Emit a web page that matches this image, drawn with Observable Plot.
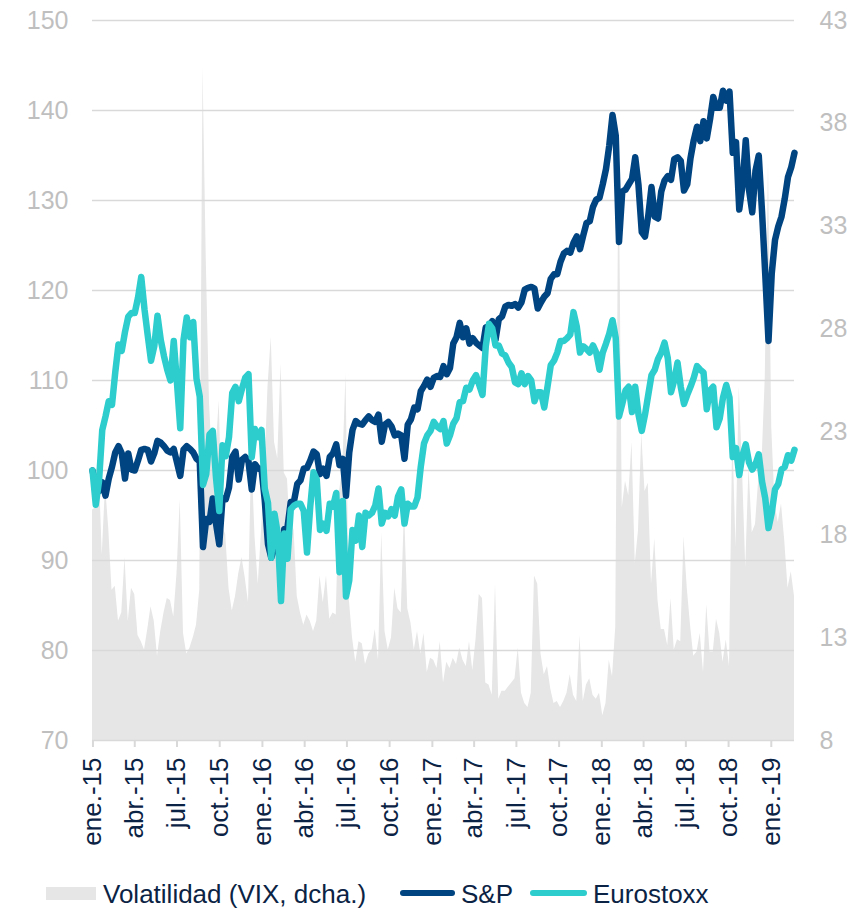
<!DOCTYPE html>
<html>
<head>
<meta charset="utf-8">
<script src="https://cdn.jsdelivr.net/npm/d3@7"></script>
<script src="https://cdn.jsdelivr.net/npm/@observablehq/plot@0.6"></script>
<style>
  body { margin: 0; background: #fff; font-family: "Liberation Sans", Arial, sans-serif; }
  #wrap { position: relative; width: 858px; height: 908px; }
  #legend { position: absolute; top: 877px; left: 0; width: 858px; height: 34px; font-size: 26px; color: #0b2344; }
  #legend .t { position: absolute; top: 0; line-height: 34px; white-space: nowrap; }
  #legend .sw { position: absolute; }
</style>
</head>
<body>
<div id="wrap">
  <div id="chart"></div>
  <div id="legend"></div>
</div>
<script>
// ---------- DATA (weekly observations, every 7 days from firstDate) ----------
const firstDate = "2014-12-31";

// S&P (base 100)
const sp = [
  100.0,
  /*2015*/
  98.4, 97.7, 98.7, 97.2,
  99.1, 100.4, 102.0, 102.7,
  101.9, 99.1, 101.9, 100.1,
  100.0, 101.1, 102.3, 102.4, 102.3,
  101.0, 101.9, 103.3, 103.1,
  102.7, 102.2, 102.0, 102.4,
  100.9, 99.4, 102.3, 102.7, 102.4,
  102.0, 101.3, 101.0, 91.5,
  94.6, 94.3, 96.9, 94.1, 91.8,
  96.9, 96.8, 98.1, 101.5,
  102.1, 99.0, 101.2, 101.5,
  101.0, 97.9, 100.7, 100.2, 100.2,
  /*2016*/
  96.7, 91.8, 90.3, 91.4,
  92.9, 88.8, 93.5, 93.7,
  96.5, 96.6, 98.5, 98.9, 100.2,
  100.3, 101.1, 102.1, 101.8,
  99.6, 100.2, 99.4, 101.5,
  101.9, 102.9, 100.6, 101.3, 97.2,
  102.0, 104.5, 105.5, 105.2,
  105.1, 105.6, 106.0, 105.6, 105.4,
  106.2, 103.2, 105.1, 105.4,
  104.9, 103.9, 104.1, 103.9,
  101.3, 105.1, 105.7, 107.0, 106.8,
  108.8, 109.4, 110.1, 109.3,
  /*2017*/
  110.3, 110.5, 110.4, 111.6,
  110.7, 111.4, 114.1, 114.8,
  116.4, 114.8, 115.8, 114.1, 114.7,
  114.2, 113.9, 113.6, 115.9,
  116.0, 116.6, 114.5, 116.8, 117.1,
  118.2, 118.4, 118.3, 118.5,
  118.1, 118.7, 120.1, 120.3,
  120.4, 120.2, 118.0, 118.7, 119.3,
  119.7, 121.3, 121.8, 121.8,
  123.2, 124.1, 124.4, 124.2,
  125.3, 126.0, 124.6, 126.1, 127.5,
  127.7, 129.3, 130.1, 130.3,
  /*2018*/
  131.8, 133.5, 136.1, 139.5, 137.2,
  125.4, 131.0, 131.2, 131.8,
  132.4, 134.8, 131.7, 126.5,
  126.0, 128.3, 131.5, 128.2,
  128.0, 131.0, 132.2, 132.7, 132.3,
  134.6, 134.8, 134.4, 131.1,
  131.8, 134.7, 136.7, 138.2,
  136.6, 138.8, 136.9, 139.0, 141.5,
  140.3, 140.3, 142.2, 141.1,
  142.1, 135.3, 136.5, 129.0, 131.7,
  136.7, 131.2, 128.7, 133.3,
  135.0, 128.8, 121.8, 114.4,
  /*2019*/
  121.9, 125.6, 127.1, 128.2, 130.2,
  132.6, 133.7, 135.3
];

// Eurostoxx (base 100)
const euro = [
  100.0,
  /*2015*/
  96.2, 98.8, 104.5, 106.0,
  107.7, 107.3, 110.9, 114.0,
  113.3, 115.4, 117.1, 117.5,
  117.5, 119.2, 121.5, 117.9, 115.0,
  112.2, 113.8, 117.2, 114.5,
  112.7, 111.2, 110.0, 114.4,
  109.7, 104.7, 114.5, 117.0, 114.8,
  116.5, 110.2, 108.2, 98.4,
  99.6, 104.0, 104.4, 99.2, 95.5,
  102.8, 101.6, 103.7, 108.6,
  109.3, 107.7, 109.1, 110.3,
  110.7, 101.5, 104.6, 103.7, 104.5,
  /*2016*/
  98.0, 96.4, 90.3, 95.2,
  93.0, 85.5, 93.0, 90.2,
  95.7, 96.1, 96.3, 96.3, 95.5,
  90.9, 96.0, 99.8, 99.0,
  93.4, 94.1, 93.3, 96.3,
  96.0, 97.5, 88.7, 96.6, 86.0,
  87.8, 93.4, 92.2, 95.0,
  91.5, 95.3, 95.0, 95.3, 96.1,
  98.0, 94.1, 95.3, 94.9,
  95.7, 95.0, 97.1, 97.9,
  94.1, 96.3, 96.0, 96.0, 97.0,
  100.4, 103.0, 103.9, 104.4,
  /*2017*/
  105.4, 104.9, 104.6, 105.5,
  103.0, 103.9, 105.2, 105.8,
  107.6, 107.7, 109.2, 109.0, 110.0,
  110.6, 109.5, 108.4, 113.8,
  116.3, 115.8, 113.9, 113.9, 113.0,
  112.8, 112.0, 111.5, 109.8,
  109.6, 110.8, 109.6, 110.5,
  110.0, 107.7, 108.7, 108.7, 107.0,
  109.3, 111.7, 112.2, 113.1,
  114.4, 114.4, 114.7, 115.1,
  117.6, 116.0, 113.1, 113.8, 113.5,
  113.1, 113.9, 113.1, 111.2,
  /*2018*/
  113.1, 114.1, 115.2, 116.7, 114.7,
  106.0, 107.4, 108.9, 109.3,
  106.5, 109.3, 106.2, 104.4,
  106.2, 108.4, 110.6, 111.2,
  112.4, 113.1, 114.2, 112.5, 108.7,
  110.0, 112.0, 109.3, 107.4,
  108.4, 109.3, 110.3, 111.6,
  111.2, 110.9, 106.8, 108.9, 109.3,
  104.8, 105.8, 108.1, 109.5,
  108.1, 101.5, 102.5, 99.5, 101.7,
  102.9, 100.9, 100.1, 100.7,
  101.8, 98.8, 96.9, 93.6,
  /*2019*/
  95.3, 97.9, 98.5, 100.1, 100.4,
  101.7, 101.1, 102.3
];

// Volatilidad VIX (right axis)
const vix = [
  19.2,
  /*2015*/
  19.3, 21.5, 17.0, 20.4,
  18.3, 15.3, 15.5, 13.8,
  14.2, 16.9, 13.8, 15.4,
  15.1, 13.1, 12.8, 12.4, 13.4,
  14.5, 13.8, 12.1, 13.3,
  14.2, 14.9, 14.8, 14.0,
  16.1, 19.7, 13.2, 12.2, 12.5,
  13.0, 13.6, 15.3, 40.7,
  31.4, 24.4, 21.4, 22.1, 24.5,
  18.4, 18.0, 15.4, 14.3,
  15.0, 16.1, 16.9, 15.9,
  14.7, 22.0, 17.9, 15.6, 18.2,
  /*2016*/
  21.0, 25.2, 27.6, 22.5,
  21.7, 26.3, 21.0, 20.7,
  17.7, 18.3, 15.0, 14.2, 13.6,
  14.1, 13.8, 13.3, 13.8,
  16.0, 14.7, 16.0, 13.9,
  14.2, 14.1, 20.1, 21.2, 25.8,
  14.9, 13.0, 11.8, 12.8,
  12.7, 11.7, 12.2, 12.4, 13.4,
  11.9, 18.1, 13.3, 12.4,
  13.0, 15.4, 14.4, 14.2,
  19.3, 14.4, 13.7, 12.4, 13.3,
  12.2, 13.2, 11.3, 12.0,
  /*2017*/
  11.9, 11.5, 12.8, 10.8,
  11.8, 11.5, 12.0, 11.7,
  12.5, 11.9, 11.6, 12.8, 11.4,
  12.9, 15.1, 14.9, 10.8,
  10.7, 10.2, 15.6, 10.0, 10.4,
  10.4, 10.6, 10.8, 11.0,
  12.5, 10.3, 9.8, 9.6,
  10.3, 16.0, 15.6, 12.2, 11.2,
  11.6, 10.5, 9.8, 9.9,
  9.6, 9.9, 10.3, 11.2,
  10.2, 9.9, 13.1, 9.9, 10.7,
  11.0, 10.2, 10.0, 10.3,
  /*2018*/
  9.2, 9.8, 11.9, 11.1, 13.5,
  37.3, 19.3, 20.6, 19.9,
  22.5, 16.6, 18.2, 22.9,
  20.1, 20.5, 15.6, 17.8,
  14.8, 13.4, 13.4, 12.6, 14.9,
  12.4, 12.9, 12.8, 17.9,
  15.4, 13.6, 12.1, 12.3,
  13.2, 11.3, 14.6, 12.3, 12.3,
  13.9, 13.2, 11.8, 12.9,
  11.6, 23.0, 17.4, 25.2, 21.2,
  16.4, 21.3, 18.1, 18.5,
  20.7, 21.5, 25.6, 36.1,
  /*2019*/
  23.2, 19.5, 18.6, 19.5, 17.7,
  15.4, 16.2, 15.0
];

const leftTicks = [70, 80, 90, 100, 110, 120, 130, 140, 150];
const rightTicks = [8, 13, 18, 23, 28, 33, 38, 43];
const monthAbbr = ["ene.", "feb.", "mar.", "abr.", "may.", "jun.", "jul.", "ago.", "sep.", "oct.", "nov.", "dic."];
const xTickDates = [
  "2015-01-01", "2015-04-01", "2015-07-01", "2015-10-01",
  "2016-01-01", "2016-04-01", "2016-07-01", "2016-10-01",
  "2017-01-01", "2017-04-01", "2017-07-01", "2017-10-01",
  "2018-01-01", "2018-04-01", "2018-07-01", "2018-10-01",
  "2019-01-01"
];
const xDomain = ["2014-12-31", "2019-02-20"];
const seriesNames = ["Volatilidad (VIX, dcha.)", "S&P", "Eurostoxx"];
const seriesColors = ["#e6e6e6", "#004481", "#2dcccd"];

// ---------- BUILD ----------
const leftMin = 70, leftMax = 150, rightMin = 8, rightMax = 43;
const toLeft = v => leftMin + (v - rightMin) * (leftMax - leftMin) / (rightMax - rightMin);
const fromLeft = d => rightMin + (d - leftMin) * (rightMax - rightMin) / (leftMax - leftMin);

const t0 = new Date(firstDate);
const n = Math.min(sp.length, euro.length, vix.length);
const rows = d3.range(n).map(i => ({
  date: d3.utcDay.offset(t0, 7 * i),
  sp: sp[i], euro: euro[i], vix: vix[i]
}));
const xTicks = xTickDates.map(s => new Date(s));
const fmtX = d => monthAbbr[d.getUTCMonth()] + "-" + String(d.getUTCFullYear()).slice(2);

const chart = Plot.plot({
  width: 858,
  height: 875,
  marginTop: 20,
  marginBottom: 135,
  marginLeft: 92,
  marginRight: 64,
  style: { fontFamily: "'Liberation Sans', Arial, sans-serif", background: "transparent", overflow: "visible" },
  x: { type: "utc", domain: xDomain.map(s => new Date(s)) },
  y: { domain: [leftMin, leftMax] },
  marks: [
    Plot.areaY(rows, { x: "date", y1: leftMin, y2: d => toLeft(d.vix), fill: seriesColors[0] }),
    Plot.ruleY(leftTicks, { stroke: "#d9d9d9", strokeWidth: 1.6 }),
    Plot.axisX(xTicks, {
      tickFormat: fmtX, tickRotate: -90, tickSize: 7, tickPadding: 10,
      stroke: "#d9d9d9", strokeWidth: 2, fill: "#0b2344", fontSize: 26
    }),
    Plot.axisY(leftTicks, { anchor: "left", tickSize: 0, tickPadding: 24, fill: "#bfbfbf", fontSize: 25 }),
    Plot.axisY(rightTicks.map(toLeft), {
      anchor: "right", tickSize: 0, tickPadding: 25, fill: "#bfbfbf", fontSize: 25,
      tickFormat: d => String(Math.round(fromLeft(d)))
    }),
    Plot.lineY(rows, { x: "date", y: "sp", stroke: seriesColors[1], strokeWidth: 6.5, strokeLinejoin: "round", strokeLinecap: "round" }),
    Plot.lineY(rows, { x: "date", y: "euro", stroke: seriesColors[2], strokeWidth: 6.5, strokeLinejoin: "round", strokeLinecap: "round" })
  ]
});
document.getElementById("chart").appendChild(chart);

// ---------- LEGEND (HTML below the SVG) ----------
const legend = document.getElementById("legend");
const items = [
  { sw: { left: 46, top: 10, width: 50, height: 13, radius: 0 }, text: 103 },
  { sw: { left: 400, top: 13, width: 55, height: 6, radius: 3 }, text: 461 },
  { sw: { left: 530, top: 13, width: 57, height: 6, radius: 3 }, text: 593 }
];
items.forEach((it, i) => {
  const s = document.createElement("div");
  s.className = "sw";
  Object.assign(s.style, {
    left: it.sw.left + "px", top: it.sw.top + "px", width: it.sw.width + "px",
    height: it.sw.height + "px", background: seriesColors[i], borderRadius: it.sw.radius + "px"
  });
  legend.appendChild(s);
  const t = document.createElement("div");
  t.className = "t";
  t.style.left = it.text + "px";
  t.textContent = seriesNames[i];
  legend.appendChild(t);
});
</script>
</body>
</html>
